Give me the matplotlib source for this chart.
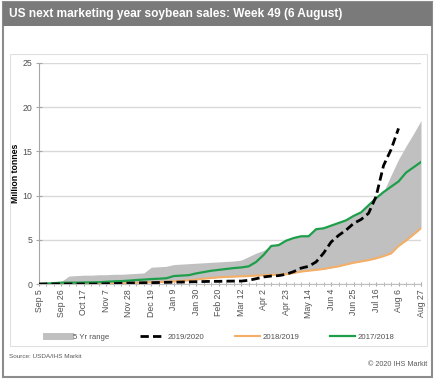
import numpy as np
import matplotlib.pyplot as plt
from matplotlib.patches import Rectangle
from matplotlib.lines import Line2D

plt.rcParams['font.family'] = ['Liberation Sans', 'DejaVu Sans']

# weekly tick labels (every 3rd week)
tick_labels = ['Sep 5', 'Sep 26', 'Oct 17', 'Nov 7', 'Nov 28', 'Dec 19', 'Jan 9', 'Jan 30',
               'Feb 20', 'Mar 12', 'Apr 2', 'Apr 23', 'May 14', 'Jun 4', 'Jun 25', 'Jul 16',
               'Aug 6', 'Aug 27']

# million tonnes, one value per week
range_hi = [0, 0.05, 0.1, 0.3, 0.9, 0.95, 1.0, 1.0, 1.05, 1.05, 1.1, 1.1, 1.15, 1.2, 1.25,
            1.9, 1.95, 2.0, 2.2, 2.25, 2.3, 2.35, 2.4, 2.45, 2.5, 2.55, 2.6, 2.7, 3.1, 3.5, 3.8,
            4.3, 4.4, 4.9, 5.2, 5.4, 5.4, 6.2, 6.3, 6.6, 6.9, 7.2, 7.7, 8.1, 8.9, 9.7, 10.4,
            12.3, 14.1, 15.6, 17.0, 18.5]
range_lo = [0, 0, 0, 0, 0, 0, 0, 0, 0, 0, 0.02, 0.05, 0.1, 0.13, 0.16, 0.2, 0.22, 0.25, 0.3,
            0.35, 0.42, 0.5, 0.6, 0.68, 0.75, 0.8, 0.83, 0.87, 0.9, 0.95, 1.0, 1.03, 1.06, 1.1,
            1.25, 1.4, 1.5, 1.6, 1.7, 1.85, 2.0, 2.2, 2.4, 2.55, 2.7, 2.9, 3.15, 3.45, 4.3,
            4.9, 5.6, 6.3]
y2019 = [0, 0, 0, 0, 0, 0, 0, 0, 0, 0.03, 0.05, 0.07, 0.1, 0.12, 0.14, 0.15, 0.17, 0.19, 0.2,
         0.22, 0.24, 0.26, 0.28, 0.3, 0.3, 0.32, 0.33, 0.33, 0.42, 0.6, 0.8, 0.9, 0.95, 1.1,
         1.4, 1.8, 2.0, 2.5, 3.5, 4.75, 5.5, 6.1, 6.85, 7.3, 8.0, 9.9, 13.4, 15.2, 17.6]
y2018 = [0, 0, 0, 0, 0, 0, 0, 0, 0, 0, 0.02, 0.05, 0.1, 0.13, 0.16, 0.2, 0.22, 0.25, 0.3,
         0.35, 0.42, 0.5, 0.6, 0.68, 0.75, 0.8, 0.83, 0.87, 0.9, 0.95, 1.0, 1.03, 1.06, 1.1,
         1.25, 1.4, 1.5, 1.6, 1.7, 1.85, 2.0, 2.2, 2.4, 2.55, 2.7, 2.9, 3.15, 3.45, 4.3,
         4.9, 5.6, 6.3]
y2017 = [0, 0.05, 0.1, 0.15, 0.15, 0.15, 0.17, 0.18, 0.2, 0.25, 0.3, 0.33, 0.38, 0.45, 0.5,
         0.56, 0.6, 0.65, 0.9, 0.95, 1.0, 1.2, 1.35, 1.5, 1.6, 1.7, 1.8, 1.87, 2.0, 2.5, 3.3,
         4.3, 4.4, 4.9, 5.2, 5.4, 5.4, 6.2, 6.3, 6.6, 6.9, 7.2, 7.7, 8.1, 8.9, 9.7, 10.4,
         11.0, 11.6, 12.6, 13.2, 13.8]

weeks = np.arange(len(range_hi))

fig = plt.figure(figsize=(4.36, 3.79), dpi=100)
W, H = 436, 379

# outer border and title bar
fig.patches.append(Rectangle((3 / W, 2 / H), 429 / W, 375 / H, transform=fig.transFigure,
                             fill=False, edgecolor='#8c8c8c', linewidth=1.5))
fig.patches.append(Rectangle((3 / W, 1 - 26 / H), 429 / W, 24 / H, transform=fig.transFigure,
                             facecolor='#7a7a7a', edgecolor='none'))
fig.patches.append(Rectangle((10 / W, 1 - 346 / H), 417 / W, 292 / H, transform=fig.transFigure,
                             fill=False, edgecolor='#e0e0e0', linewidth=0.8))
fig.text(9 / W, 1 - 14 / H, 'US next marketing year soybean sales: Week 49 (6 August)',
         color='white', fontsize=8.6, fontweight='bold', va='center', ha='left')

ax = fig.add_axes([39 / W, 95 / H, 382 / W, 221 / H])
ax.fill_between(weeks, range_lo, range_hi, color='#c0c0c0', linewidth=0, zorder=1)
ax.plot(weeks, y2018, color='#f5ae66', linewidth=1.5, zorder=2)
ax.plot(weeks, y2017, color='#1e9e4a', linewidth=1.6, zorder=3)
ax.plot(weeks[:len(y2019)], y2019, color='black', linewidth=2, dashes=(3, 1.5), zorder=4)

ax.set_xlim(0, 51)
ax.set_ylim(0, 25)
ax.set_yticks([0, 5, 10, 15, 20, 25])
ax.set_xticks(np.arange(0, 52, 3))
ax.set_xticklabels(tick_labels, rotation=90)
ax.set_xticks(weeks, minor=True)
ax.tick_params(axis='x', which='both', direction='inout', length=3, color='#a6a6a6',
               labelsize=6.3, labelcolor='#505050', pad=2)
ax.tick_params(axis='y', direction='inout', length=4, color='#a6a6a6', labelsize=6.3,
               labelcolor='#505050', pad=3)
ax.grid(axis='y', color='#d9d9d9', linewidth=1)
ax.set_axisbelow(True)
for s in ['top', 'right']:
    ax.spines[s].set_visible(False)
ax.spines['left'].set_color('#a6a6a6')
ax.spines['bottom'].set_color('#bfbfbf')
ax.set_ylabel('Million tonnes', fontsize=6.3, fontweight='bold', va='center')
ax.yaxis.set_label_coords(-24 / 382, 0.5)

handles = [Line2D([], [], color='#c0c0c0', linewidth=5),
           Line2D([], [], color='black', linewidth=2, dashes=(3, 1.5)),
           Line2D([], [], color='#f5ae66', linewidth=1.5),
           Line2D([], [], color='#1e9e4a', linewidth=1.6)]
fig.legend(handles, ['5 Yr range', '2019/2020', '2018/2019', '2017/2018'],
           loc='center', bbox_to_anchor=(220 / W, 1 - 337 / H), ncol=4, frameon=False,
           fontsize=5.6, handlelength=3.2, handletextpad=0.3, columnspacing=4.0,
           labelcolor='#505050')

fig.text(9 / W, 1 - 356 / H, 'Source: USDA/IHS Markit', fontsize=4.6, color='#595959',
         va='center')
fig.text(427 / W, 1 - 365 / H, '\u00a9 2020 IHS Markit', fontsize=5.2, color='#595959',
         va='center', ha='right')

fig.savefig('out.png', dpi=100)
